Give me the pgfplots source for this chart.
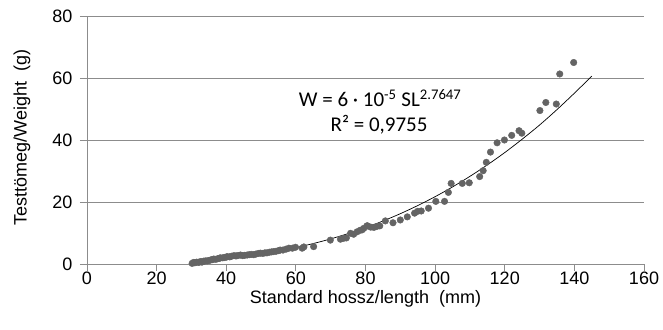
\documentclass[border=0pt]{standalone}
\usepackage{fontspec}
\setmainfont{Liberation Sans}
\newfontfamily\carlito{Carlito}
\usepackage{pgfplots}
\pgfplotsset{compat=1.18}
\definecolor{gridgray}{RGB}{140,140,140}
\definecolor{markgray}{RGB}{100,100,100}
\begin{document}
\begin{tikzpicture}
\path[use as bounding box] (-87pt,-65pt) rectangle (576pt,264pt);
\begin{axis}[
  scale only axis, width=557pt, height=248pt,
  xmin=0, xmax=160, ymin=0, ymax=80,
  xtick={0,20,...,160}, ytick={0,20,...,80},
  axis x line*=bottom, axis y line*=left,
  ymajorgrids, grid style={draw=gridgray, line width=0.8pt},
  axis line style={draw=gridgray, line width=0.8pt},
  tick style={draw=gridgray, line width=0.8pt},
  tick align=outside, major tick length=7pt,
  /pgf/number format/assume math mode=true,
  ticklabel style={font=\fontsize{18}{20}\selectfont, text=black},
  yticklabel style={xshift=-4pt},
  xticklabel style={yshift=3pt},
  xlabel={Standard hossz/length\ \ (mm)},
  ylabel={Testtömeg/Weight\ \ (g)},
  label style={font=\fontsize{18}{20}\selectfont},
  xlabel style={at={(axis description cs:0.5,-0.141)}, anchor=center},
  ylabel style={at={(axis description cs:-0.1167,0.51)}, anchor=center},
  clip=false,
]
\addplot[only marks, mark=*, mark size=3.3pt, color=markgray, mark options={draw=markgray, fill=markgray}] table {
x y
30.2 0.2
30.6 0.5
31.0 0.4
31.5 0.6
32.1 0.5
32.6 0.8
33.0 0.6
33.5 0.9
34.0 1.0
34.5 1.0
35.0 1.1
35.5 1.3
36.0 1.4
36.4 1.6
37.0 1.5
37.5 1.7
38.0 1.8
38.3 2.0
39.0 2.0
39.5 2.1
40.0 2.2
40.3 2.4
41.0 2.3
41.5 2.5
42.2 2.7
42.8 2.6
43.3 2.7
44.1 2.9
44.7 2.7
45.3 2.8
46.0 2.9
46.6 3.0
47.2 3.1
47.9 3.0
48.5 3.2
49.2 3.4
49.8 3.5
50.5 3.4
51.1 3.6
51.7 3.6
52.4 3.8
53.0 3.9
53.6 4.0
54.3 4.1
55.0 4.3
55.5 4.5
56.3 4.5
57.2 4.8
58.0 5.1
59.0 5.1
59.9 5.4
61.8 5.1
62.3 5.5
65.1 5.6
69.9 7.7
72.8 8.0
73.7 8.3
74.5 8.4
75.7 9.9
76.6 9.6
77.6 10.4
78.5 10.9
79.0 11.0
79.5 11.5
80.4 12.3
80.6 12.3
81.5 11.9
82.4 11.8
83.2 12.1
84.1 12.3
85.7 13.9
87.9 13.3
90.0 14.2
92.0 15.2
94.1 16.4
95.0 17.0
96.0 17.1
98.1 18.0
100.2 20.2
102.7 20.2
103.8 23.1
104.6 26.0
107.8 26.0
109.8 26.2
112.8 28.2
113.8 30.1
114.7 32.8
115.9 36.1
117.8 39.1
119.9 40.0
122.0 41.5
124.1 43.0
124.9 42.2
130.1 49.5
131.8 52.1
134.8 51.6
135.8 61.3
139.8 65.0
};
\addplot[black, line width=0.7pt, smooth] table {
x y
30 0.78
35 1.19
40 1.73
45 2.39
50 3.20
55 4.16
60 5.30
65 6.60
70 8.10
75 9.81
80 11.73
85 13.86
90 16.23
95 18.85
100 21.72
105 24.86
110 28.28
115 31.97
120 35.95
125 40.26
130 44.83
135 49.81
140 55.10
145 60.60
};
\node[font=\carlito\fontsize{21}{24}\selectfont, anchor=center] at (axis cs:84.2,53.5) {W = 6 · 10\textsuperscript{-5} SL\textsuperscript{2.7647}};
\node[font=\carlito\fontsize{21}{24}\selectfont, anchor=center] at (axis cs:83.9,44.8) {R² = 0,9755};
\end{axis}
\end{tikzpicture}
\end{document}
